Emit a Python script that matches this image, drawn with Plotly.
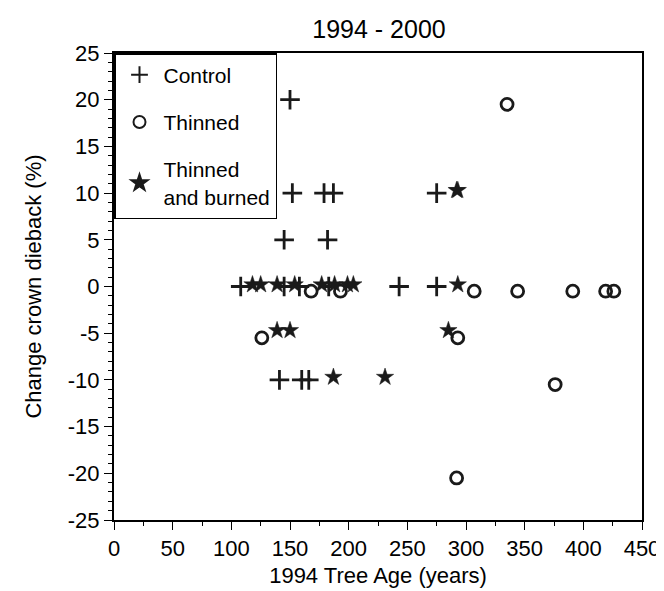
import plotly.graph_objects as go

# Control (+)
control_age = [150, 152, 179, 187, 275, 145, 182, 108, 145, 158, 183, 243, 275, 141, 160, 166]
control_chg = [20, 10, 10, 10, 10, 5, 5, 0, 0, 0, 0, 0, 0, -10, -10, -10]

# Thinned (o)
thinned_age = [335, 168, 193, 307, 344, 391, 419, 426, 126, 293, 376, 292]
thinned_chg = [19.5, -0.5, -0.5, -0.5, -0.5, -0.5, -0.5, -0.5, -5.5, -5.5, -10.5, -20.5]

# Thinned and burned (*)
tb_age = [292, 293, 118, 125, 139, 154, 177, 188, 199, 204, 293, 139, 150, 285, 187, 231]
tb_chg = [10.3, 10.3, 0.2, 0.2, 0.2, 0.2, 0.2, 0.2, 0.2, 0.2, 0.2, -4.7, -4.7, -4.7, -9.7, -9.7]

x_ticks = list(range(0, 451, 50))
y_ticks = list(range(-25, 26, 5))
x_labels = [str(v) for v in x_ticks]
y_labels = [str(v) for v in y_ticks]   # plain hyphen-minus like the original

FONT = "Liberation Sans, Arial, sans-serif"
INK = "#1a1a1a"

fig = go.Figure()
fig.add_trace(go.Scatter(
    x=control_age, y=control_chg, mode="markers", name="Control", legendgroup="a",
    marker=dict(symbol="cross-thin-open", size=14, color=INK,
                line=dict(width=2.8, color=INK))))
fig.add_trace(go.Scatter(
    x=thinned_age, y=thinned_chg, mode="markers", name="Thinned", legendgroup="b",
    marker=dict(symbol="circle-open", size=12, color=INK,
                line=dict(width=2.8, color=INK))))
fig.add_trace(go.Scatter(
    x=tb_age, y=tb_chg, mode="markers", name="Thinned<br>and burned", legendgroup="c",
    marker=dict(symbol="star", size=13, color=INK,
                line=dict(width=0.5, color=INK))))

fig.update_layout(
    width=664, height=591,
    margin=dict(l=106, r=28, t=45, b=79),
    paper_bgcolor="white", plot_bgcolor="white",
    font=dict(family=FONT, size=20, color="black"),
    title=dict(text="1994 - 2000", x=(106 + 636) / 2 / 664, xanchor="center",
               y=1 - 21 / 591, yanchor="middle", font=dict(size=25)),
    showlegend=True,
    legend=dict(x=0, y=1, xanchor="left", yanchor="top",
                bgcolor="white", bordercolor="black", borderwidth=1.5,
                font=dict(size=21), tracegroupgap=17, itemsizing="constant",
                itemwidth=38),
    xaxis=dict(range=[0, 450], tickvals=x_ticks, ticktext=x_labels, ticks="outside", ticklen=8,
               tickwidth=1.3, tickcolor="black", tickfont=dict(size=22),
               minor=dict(dtick=25, ticks="outside", ticklen=4, tickwidth=1.2, tickcolor="black"),
               showline=True, linecolor="black", linewidth=2, mirror=True,
               showgrid=False, zeroline=False,
               title=dict(text="1994 Tree Age (years)", font=dict(size=22), standoff=7)),
    yaxis=dict(range=[-25, 25], tickvals=y_ticks, ticktext=y_labels, ticks="outside", ticklen=8,
               tickwidth=1.3, tickcolor="black", tickfont=dict(size=22),
               minor=dict(dtick=1, ticks="outside", ticklen=4, tickwidth=1, tickcolor="black"),
               showline=True, linecolor="black", linewidth=2, mirror=True,
               showgrid=False, zeroline=False,
               title=dict(text="Change crown dieback (%)", font=dict(size=22), standoff=20)),
)

fig.write_html("out.html")
